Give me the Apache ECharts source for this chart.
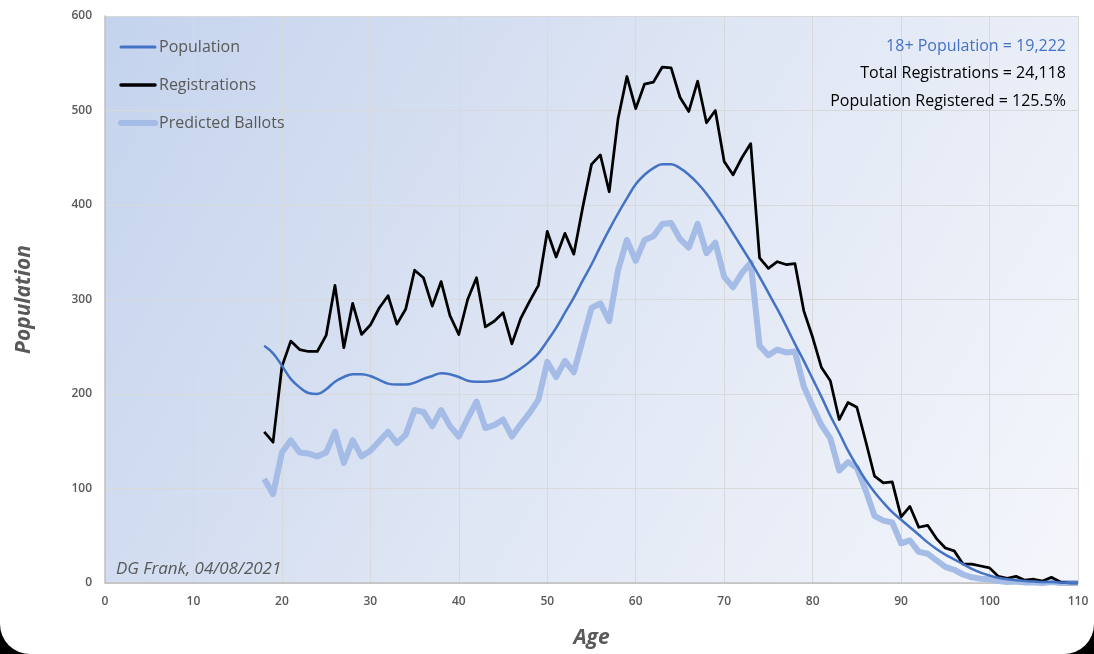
<!DOCTYPE html>
<html>
<head>
<meta charset="utf-8">
<script src="https://cdn.jsdelivr.net/npm/echarts@6/dist/echarts.min.js"></script>
<style>
  html, body { margin: 0; padding: 0; background: #000; }
  #wrap { width: 1094px; height: 654px; background: #fff; border-bottom-left-radius: 30px; border-bottom-right-radius: 30px; overflow: hidden; }
  #chart { width: 1094px; height: 654px; }
</style>
</head>
<body>
<div id="wrap"><div id="chart"></div></div>
<script>
// Ages 18..110
const ages = [];
for (let a = 18; a <= 110; a++) ages.push(a);

const population = [
  251,243,230,216,207,201,200,205,213,218,
  221,221,219,215,211,210,210,212,216,219,
  222,221,218,214,213,213,214,216,221,227,
  234,243,256,270,286,302,320,337,356,374,
  391,407,422,432,439,443,443,439,432,423,
  412,399,385,370,355,340,324,307,290,272,
  253,235,216,197,177,159,140,124,109,96,
  85,75,67,59,51,43,36,30,25,20,
  15,11,8,5.5,4,3,2,1.5,1,1,
  0.5,0.3,0.2
];
const registrations = [
  160,149,229,256,247,245,245,262,315,249,
  296,263,273,291,304,274,290,331,323,293,
  319,283,263,300,323,271,277,286,253,280,
  298,315,372,345,370,348,397,443,453,414,
  491,536,502,528,530,546,545,514,499,531,
  487,500,446,432,450,465,344,333,340,337,
  338,288,260,228,214,173,191,186,150,113,
  106,107,70,81,59,61,47,37,34,20,
  20,18,16,7,5,7,3,4,2,6,
  1,0,0
];
const ballots = [
  110,94,138,151,138,137,134,138,160,127,
  151,134,140,150,160,148,157,183,181,166,
  183,166,155,174,192,164,167,173,155,168,
  180,194,234,218,235,223,257,291,296,277,
  331,363,341,363,367,380,381,364,355,380,
  349,360,324,313,328,339,251,241,247,244,
  245,208,187,167,153,119,128,122,98,71,
  66,64,42,45,33,31,24,17,14,9,
  6,4.5,4,2,1,1.5,0.5,0.5,0,1,
  0,0,0
];
const seriesNames = ['Population', 'Registrations', 'Predicted Ballots'];
const annotations = ['18+ Population = 19,222', 'Total Registrations = 24,118', 'Population Registered = 125.5%'];
const credit = 'DG Frank, 04/08/2021';
const xTitle = 'Age';
const yTitle = 'Population';

const pairs = arr => ages.map((a, i) => [a, arr[i]]);
const FONT = "'Open Sans', 'Noto Sans', sans-serif";
const GREY = '#595959';
const legendWidths = [3, 3.5, 6];

const chart = echarts.init(document.getElementById('chart'), null, { renderer: 'canvas' });
chart.setOption({
  animation: false,
  backgroundColor: 'transparent',
  textStyle: { fontFamily: FONT },
  grid: {
    left: 105, right: 16, top: 16, bottom: 66,
    show: true,
    borderWidth: 0,
    backgroundColor: new echarts.graphic.LinearGradient(0, 0, 1, 1, [
      { offset: 0, color: '#c4d3ed' },
      { offset: 0.5, color: '#dfe6f4' },
      { offset: 1, color: '#f4f6fb' }
    ])
  },
  legend: {
    orient: 'vertical',
    left: 113, top: 34,
    itemWidth: 34, itemHeight: 14, itemGap: 22,
    itemStyle: { opacity: 0 },
    textStyle: { fontFamily: FONT, fontSize: 16, color: GREY, padding: [0, 0, 0, -1] },
    data: seriesNames.map((n, i) => ({ name: n, lineStyle: { width: legendWidths[i], cap: 'round' } }))
  },
  xAxis: {
    type: 'value', min: 0, max: 110, interval: 10,
    name: xTitle, nameLocation: 'middle', nameGap: 45,
    nameTextStyle: { fontFamily: FONT, fontSize: 21, fontStyle: 'italic', fontWeight: 'bold', color: GREY },
    axisLine: { show: true, lineStyle: { color: '#bfbfbf', width: 1.5 } },
    axisTick: { show: false },
    axisLabel: { fontFamily: FONT, fontSize: 12, fontWeight: 600, color: GREY, margin: 13 },
    splitLine: { show: true, lineStyle: { color: '#d9d9d9', width: 1 } }
  },
  yAxis: {
    type: 'value', min: 0, max: 600, interval: 100,
    name: yTitle, nameLocation: 'middle', nameGap: 70, nameRotate: 90,
    nameTextStyle: { fontFamily: FONT, fontSize: 21, fontStyle: 'italic', fontWeight: 'bold', color: GREY },
    axisLine: { show: true, lineStyle: { color: '#bfbfbf', width: 1.5 } },
    axisTick: { show: false },
    axisLabel: { fontFamily: FONT, fontSize: 12, fontWeight: 600, color: GREY, margin: 13 },
    splitLine: { show: true, lineStyle: { color: '#d9d9d9', width: 1 } }
  },
  series: [
    {
      name: seriesNames[2], type: 'line', data: pairs(ballots), symbol: 'none',
      lineStyle: { color: '#a4bce6', width: 6, join: 'round' }, itemStyle: { color: '#a4bce6' }, z: 1
    },
    {
      name: seriesNames[0], type: 'line', data: pairs(population), symbol: 'none', smooth: 0.4,
      lineStyle: { color: '#4472c4', width: 2.5 }, itemStyle: { color: '#4472c4' }, z: 3
    },
    {
      name: seriesNames[1], type: 'line', data: pairs(registrations), symbol: 'none',
      lineStyle: { color: '#000000', width: 2.75, join: 'round' }, itemStyle: { color: '#000000' }, z: 2
    }
  ],
  graphic: [
    { type: 'text', right: 28, top: 38, z: 10, style: { text: annotations[0], fill: '#4472c4', fontFamily: FONT, fontSize: 16 } },
    { type: 'text', right: 28, top: 65, z: 10, style: { text: annotations[1], fill: '#000', fontFamily: FONT, fontSize: 16 } },
    { type: 'text', right: 28, top: 93, z: 10, style: { text: annotations[2], fill: '#000', fontFamily: FONT, fontSize: 16 } },
    { type: 'text', left: 116, top: 561, z: 10, style: { text: credit, fill: GREY, fontFamily: FONT, fontSize: 17, fontStyle: 'italic' } }
  ]
});
</script>
</body>
</html>
